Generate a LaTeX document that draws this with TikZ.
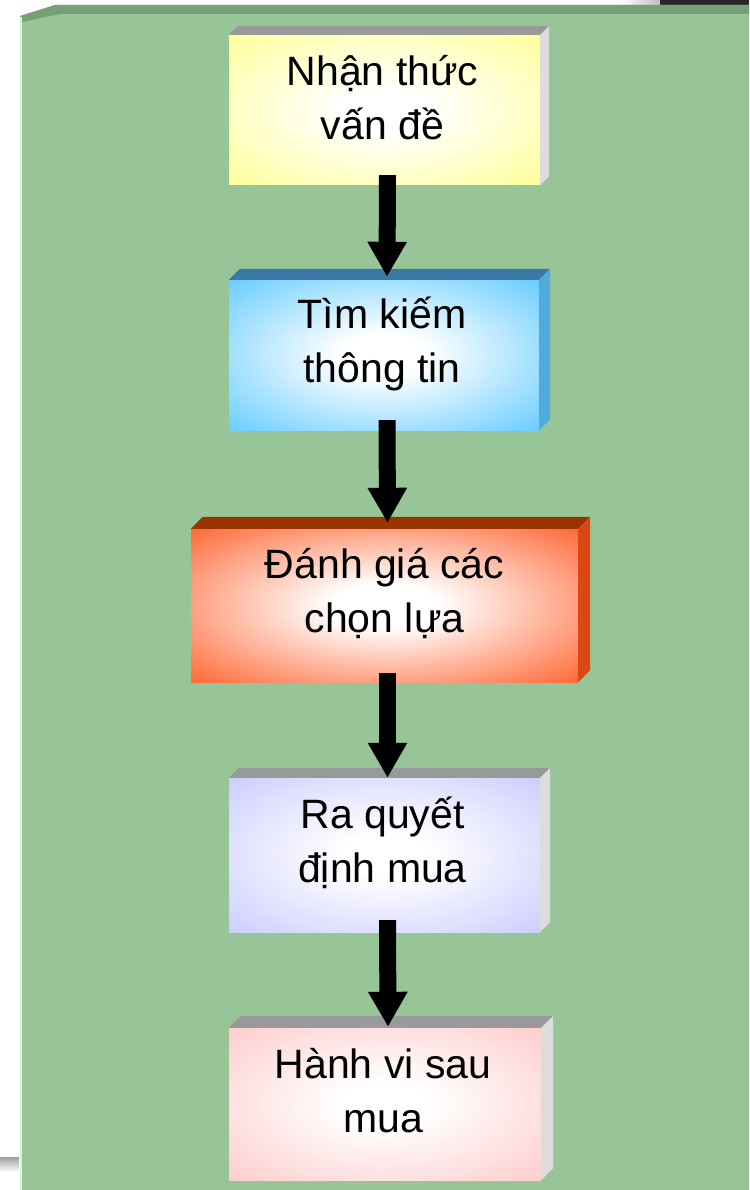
\documentclass[tikz,border=0pt]{standalone}
\usepackage{fontspec}
\setmainfont{Liberation Sans}
\usetikzlibrary{calc,arrows.meta}
\definecolor{glowin}{RGB}{255,255,255}
\definecolor{glowout}{RGB}{255,255,153}
\pgfdeclareradialshading[glowin,glowout]{glow}{\pgfpoint{0bp}{0bp}}{color(0bp)=(glowin); color(7bp)=(glowin); color(36bp)=(glowout); color(50bp)=(glowout)}
\definecolor{panel}{RGB}{151,197,151}
\definecolor{paneltop}{RGB}{118,160,118}
\definecolor{paneledge}{RGB}{204,255,204}
\definecolor{cyel}{RGB}{255,255,153}
\definecolor{cblue}{RGB}{102,204,255}
\definecolor{corange}{RGB}{255,102,51}
\definecolor{clav}{RGB}{204,204,255}
\definecolor{cpink}{RGB}{255,204,204}
\definecolor{bevgrey}{RGB}{153,153,153}
\definecolor{sidegrey}{RGB}{220,220,220}
\definecolor{bevblue}{RGB}{60,120,165}
\definecolor{sideblue}{RGB}{80,170,220}
\definecolor{bevorange}{RGB}{153,51,0}
\definecolor{sideorange}{RGB}{220,72,20}
\newcommand\boxbevel[4]{%
  \fill[#3] (#1.north west) -- ++(#2,-#2) -- ($(#1.north east)+(#2,-#2)$) -- (#1.north east) -- cycle;
  \fill[#4] (#1.north east) -- ++(#2,-#2) -- ($(#1.south east)+(#2,-#2)$) -- (#1.south east) -- cycle;}
\tikzset{
  stagebox/.style={minimum width=311pt, minimum height=150pt, inner sep=0pt, shade, shading=glow},
  label/.style={font=\fontsize{41}{54}\selectfont, align=center, anchor=base, inner sep=0pt},
  flow/.style={line width=17pt, -{Triangle[width=37pt,length=35pt]}, black},
}
\begin{document}
\begin{tikzpicture}[x=1pt,y=-1pt]
\useasboundingbox (0,0) rectangle (749,1190);
\fill[white] (0,0) rectangle (749,1190);
% top right corner of the screen
\shade[left color=white, right color=gray!50] (620,0) rectangle (660,6);
\fill[black!85] (660,0) rectangle (749,6);
% green panel
\fill[panel] (20,1190) -- (20,16) -- (55,5) -- (749,5) -- (749,1190) -- cycle;
\fill[paneltop] (20,16) -- (55,5) -- (749,5) -- (749,14) -- (60,14) -- (22,22) -- (20,22) -- cycle;
\draw[paneledge, line width=2pt] (21,17) -- (21,1190);
\shade[top color=gray!75, bottom color=white] (0,1157) rectangle (19,1172);

% stages
\node[stagebox, minimum width=311pt, minimum height=150pt, /utils/exec={\colorlet{glowout}{cyel}}] (b1) at (384.5,110) {};
\boxbevel{b1}{9}{bevgrey}{sidegrey}
\node[stagebox, minimum width=310pt, minimum height=150pt, /utils/exec={\colorlet{glowout}{cblue}}] (b2) at (384,355) {};
\boxbevel{b2}{11}{bevblue}{sideblue}
\node[stagebox, minimum width=387pt, minimum height=153pt, /utils/exec={\colorlet{glowout}{corange}}] (b3) at (384.5,605.5) {};
\boxbevel{b3}{12}{bevorange}{sideorange}
\node[stagebox, minimum width=311pt, minimum height=154pt, /utils/exec={\colorlet{glowout}{clav}}] (b4) at (384.5,855) {};
\boxbevel{b4}{10}{bevgrey}{sidegrey}
\node[stagebox, minimum width=312pt, minimum height=152pt, /utils/exec={\colorlet{glowout}{cpink}}] (b5) at (385,1104) {};
\boxbevel{b5}{12}{bevgrey}{sidegrey}

% labels (base = baseline of the last line)
\node[label] (t1) at ($(b1.north)+(-2,105)$) {Nhận thức\\vấn đề};
\node[label] (t2) at ($(b2.north)+(-2,103)$) {Tìm kiếm\\thông tin};
\node[label] (t3) at ($(b3.north)+(0,104)$) {Đánh giá các\\chọn lựa};
\node[label] (t4) at ($(b4.north)+(-2,105)$) {Ra quyết\\định mua};
\node[label] (t5) at ($(b5.north)+(-2,105)$) {Hành vi sau\\mua};

% arrows
\draw[flow] ($(b1.south)+(3,-10)$) -- ($(b2.north)+(3,-3)$);
\draw[flow] ($(b2.south)+(3,-10)$) -- ($(b3.north)+(3,-6)$);
\draw[flow] ($(b3.south)+(3,-9)$) -- ($(b4.north)+(3,0)$);
\draw[flow] ($(b4.south)+(3,-12)$) -- ($(b5.north)+(3,-1)$);
\end{tikzpicture}
\end{document}
